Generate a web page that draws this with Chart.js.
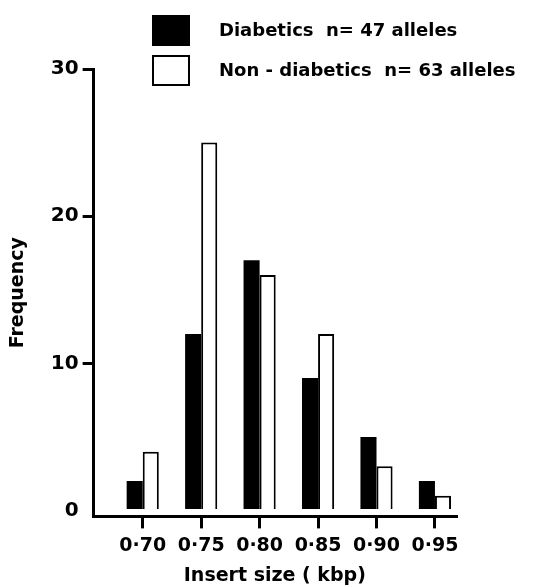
<!DOCTYPE html>
<html>
<head>
<meta charset="utf-8">
<script src="https://cdn.jsdelivr.net/npm/chart.js@4/dist/chart.umd.min.js"></script>
<style>
  html, body { margin: 0; padding: 0; background: #fff; }
  #wrap { width: 546px; height: 587px; }
</style>
</head>
<body>
<div id="wrap"><canvas id="chart"></canvas></div>
<script>
// insert sizes (kbp) and allele counts
const insertSizes = [0.70, 0.75, 0.80, 0.85, 0.90, 0.95];
const diabetics = [2, 12, 17, 9, 5, 2];
const nonDiabetics = [4, 25, 16, 12, 3, 1];
const yTicks = [0, 10, 20, 30];
const seriesLabels = ['Diabetics  n= 47 alleles', 'Non - diabetics  n= 63 alleles'];

const FONT = "'DejaVu Sans', sans-serif";

// draws the two boxes + labels above the plot, like the printed key
const keyPlugin = {
  id: 'key',
  afterDraw(chart) {
    const ctx = chart.ctx;
    ctx.save();
    chart.data.datasets.forEach((ds, i) => {
      const y = 15 + i * 40;
      ctx.fillStyle = ds.backgroundColor;
      ctx.fillRect(152, y, 38, 31);
      ctx.lineWidth = 2;
      ctx.strokeStyle = '#000';
      ctx.strokeRect(153, y + 1, 36, 29);
      ctx.fillStyle = '#000';
      ctx.font = 'bold 18px ' + FONT;
      ctx.textBaseline = 'middle';
      ctx.fillText(ds.label, 219, y + 16);
    });
    ctx.restore();
  }
};

const ctx = document.getElementById('chart').getContext('2d');
new Chart(ctx, {
  type: 'bar',
  data: {
    datasets: [
      {
        label: seriesLabels[0],
        data: insertSizes.map((x, i) => ({ x: x, y: diabetics[i] })),
        backgroundColor: '#000',
        borderWidth: 0,
      },
      {
        label: seriesLabels[1],
        data: insertSizes.map((x, i) => ({ x: x, y: nonDiabetics[i] })),
        backgroundColor: '#fff',
        borderColor: '#000',
        borderWidth: 2,
      }
    ]
  },
  options: {
    responsive: true,
    maintainAspectRatio: false,
    animation: false,
    categoryPercentage: 0.55,
    barPercentage: 1,
    layout: { padding: { top: 69, right: 90, left: 7, bottom: 0 } },
    plugins: {
      legend: { display: false },
      tooltip: { enabled: false },
    },
    scales: {
      x: {
        type: 'linear',
        offset: false,
        min: 0.658,
        max: 0.968,
        afterBuildTicks: axis => { axis.ticks = insertSizes.map(v => ({ value: v })); },
        ticks: {
          color: '#000',
          font: { family: FONT, size: 19, weight: 'bold' },
          padding: 6,
          maxRotation: 0,
          callback: v => v.toFixed(2).replace('.', '\u00b7'),
        },
        grid: { offset: false, drawOnChartArea: false, drawTicks: true, tickLength: 12, color: '#000', lineWidth: 3 },
        border: { display: true, color: '#000', width: 3 },
        title: {
          display: true,
          text: 'Insert size ( kbp)',
          color: '#000',
          font: { family: FONT, size: 19, weight: 'bold' },
          padding: { top: 1, bottom: 0 },
        },
      },
      y: {
        min: -0.4,
        max: 30,
        afterBuildTicks: axis => { axis.ticks = yTicks.map(v => ({ value: v })); },
        ticks: {
          color: '#000',
          font: { family: FONT, size: 20, weight: 'bold' },
          padding: 4,
        },
        grid: {
          drawOnChartArea: false,
          drawTicks: true,
          tickLength: 11,
          lineWidth: 3,
          color: c => (c.tick && c.tick.value === 0 ? 'rgba(0,0,0,0)' : '#000'),
        },
        border: { display: true, color: '#000', width: 3 },
        title: {
          display: true,
          text: 'Frequency',
          color: '#000',
          font: { family: FONT, size: 19, weight: 'bold' },
          padding: { top: 0, bottom: 17 },
        },
      }
    }
  },
  plugins: [keyPlugin]
});
</script>
</body>
</html>
